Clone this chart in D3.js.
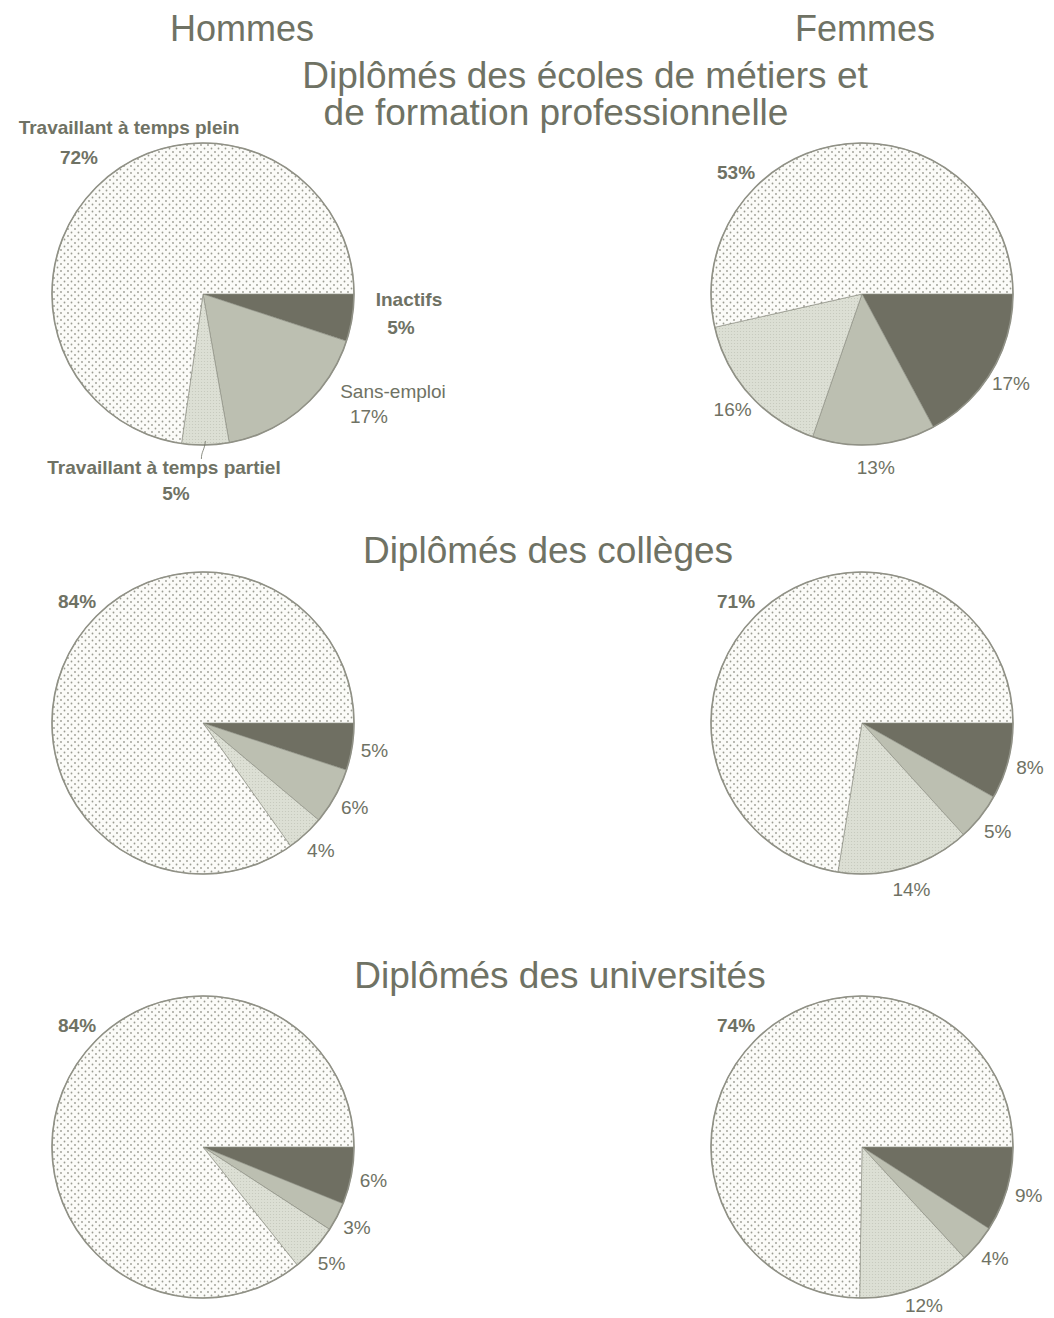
<!DOCTYPE html>
<html lang="fr">
<head>
<meta charset="utf-8">
<script src="https://cdn.jsdelivr.net/npm/d3@7"></script>
<style type="text/css">
body {
	margin: 0;
	background: #ffffff;
}
text {
	font-family: "Liberation Sans", Arial, sans-serif;
	fill: #6f7264;
}
</style>
</head>
<body>
<script type="text/javascript">

// chart data
var sexes = ["Hommes", "Femmes"];
var categories = ["Inactifs", "Sans-emploi", "Travaillant à temps partiel", "Travaillant à temps plein"];
var groups = [
	["Diplômés des écoles de métiers et", "de formation professionnelle"],
	["Diplômés des collèges"],
	["Diplômés des universités"]
];
// values in category order, one row per group
var hommes = [[5, 17, 5, 72], [5, 6, 4, 84], [6, 3, 5, 84]];
var femmes = [[17, 13, 16, 53], [8, 5, 14, 71], [9, 4, 12, 74]];

var width = 1054;
var height = 1318;
var radius = 151;

var colX = [203, 862];
var rowY = [294, 723, 1147];

var svg = d3.select("body")
	.append("svg")
	.attr("width", width)
	.attr("height", height);

// fill patterns to imitate the print screens
var defs = svg.append("defs");

var dots = defs.append("pattern")
	.attr("id", "dots")
	.attr("patternUnits", "userSpaceOnUse")
	.attr("width", 7)
	.attr("height", 7);
dots.append("rect").attr("width", 7).attr("height", 7).attr("fill", "#fbfbf8");
dots.append("circle").attr("cx", 1.5).attr("cy", 1.5).attr("r", 0.9).attr("fill", "#9a9b91");
dots.append("circle").attr("cx", 5).attr("cy", 5).attr("r", 0.9).attr("fill", "#9a9b91");

var fine = defs.append("pattern")
	.attr("id", "fine")
	.attr("patternUnits", "userSpaceOnUse")
	.attr("width", 3)
	.attr("height", 3);
fine.append("rect").attr("width", 3).attr("height", 3).attr("fill", "#dcdfd4");
fine.append("circle").attr("cx", 1.5).attr("cy", 1.5).attr("r", 0.6).attr("fill", "#c4c7bb");

var color = d3.scaleOrdinal()
	.domain(categories)
	.range(["#6f6f62", "#bcbfb1", "url(#fine)", "url(#dots)"]);

var pie = d3.pie()
	.sort(null)
	.startAngle(Math.PI / 2)
	.endAngle(Math.PI / 2 + 2 * Math.PI)
	.value(function(d) { return d.value; });

var arc = d3.arc().innerRadius(0).outerRadius(radius);
var labelArc = d3.arc().innerRadius(radius * 1.15).outerRadius(radius * 1.15);

// column headers
svg.selectAll(".sex")
	.data(sexes)
	.enter()
	.append("text")
	.attr("class", "sex")
	.attr("x", function(d, i) { return [242, 865][i]; })
	.attr("y", 41)
	.attr("text-anchor", "middle")
	.style("font-size", "36px")
	.text(function(d) { return d; });

// group titles
var titleX = [[585, 556], [548], [560]];
var titleY = [88, 563, 988];
groups.forEach(function(lines, g) {
	lines.forEach(function(line, k) {
		svg.append("text")
			.attr("x", titleX[g][k])
			.attr("y", titleY[g] + k * 37)
			.attr("text-anchor", "middle")
			.style("font-size", "37px")
			.text(line);
	});
});

// offsets of the named labels on the first pie (name line, percent line)
var named = {
	"Inactifs": [[206, 12], [198, 40]],
	"Sans-emploi": [[190, 104], [166, 129]],
	"Travaillant à temps partiel": [[-39, 180], [-27, 206]],
	"Travaillant à temps plein": [[-74, -160], [-124, -130]]
};

function drawPie(values, cx, cy, withNames) {
	var data = categories.map(function(c, i) { return {name: c, value: values[i]}; });
	var g = svg.append("g").attr("transform", "translate(" + cx + "," + cy + ")");
	var arcs = pie(data);

	g.selectAll("path")
		.data(arcs)
		.enter()
		.append("path")
		.attr("d", arc)
		.attr("fill", function(d) { return color(d.data.name); })
		.attr("stroke", "#85867b")
		.attr("stroke-width", 0.6);

	g.append("circle")
		.attr("r", radius)
		.attr("fill", "none")
		.attr("stroke", "#909186")
		.attr("stroke-width", 1.6);

	arcs.forEach(function(d, i) {
		var pct = d.data.value + "%";
		var bold = (i == 3 || withNames) && d.data.name != "Sans-emploi";
		if (withNames) {
			var o = named[d.data.name];
			g.append("text")
				.attr("x", o[0][0]).attr("y", o[0][1])
				.attr("text-anchor", "middle")
				.style("font-size", "19px")
				.style("font-weight", d.data.name == "Sans-emploi" ? "normal" : "bold")
				.text(d.data.name);
			g.append("text")
				.attr("x", o[1][0]).attr("y", o[1][1])
				.attr("text-anchor", "middle")
				.style("font-size", "19px")
				.style("font-weight", bold ? "bold" : "normal")
				.text(pct);
			return;
		}
		var p;
		if (i == 3) {
			// the full-time share is always set at the upper left
			var a = -46 * Math.PI / 180;
			p = [Math.sin(a) * radius * 1.16, -Math.cos(a) * radius * 1.16];
		} else {
			p = labelArc.centroid(d);
		}
		// keep the baseline inside the page
		var base = Math.min(p[1] + 6.5, height - 6 - cy);
		g.append("text")
			.attr("x", p[0]).attr("y", base)
			.attr("text-anchor", "middle")
			.style("font-size", "19px")
			.style("font-weight", bold ? "bold" : "normal")
			.text(pct);
	});

	if (withNames) {
		// small leader from the part-time slice to its label
		var part = arcs[2];
		var m = (part.startAngle + part.endAngle) / 2;
		var x0 = Math.sin(m) * radius, y0 = -Math.cos(m) * radius;
		g.append("path")
			.attr("d", "M" + x0 + "," + (y0 - 4) + " C" + (x0 - 1) + "," + (y0 + 6) + " " + (x0 - 4) + "," + (y0 + 6) + " " + (x0 - 4) + "," + (y0 + 14))
			.attr("fill", "none")
			.attr("stroke", "#6f7264")
			.attr("stroke-width", 0.8);
	}
}

rowY.forEach(function(cy, r) {
	drawPie(hommes[r], colX[0], cy, r == 0);
	drawPie(femmes[r], colX[1], cy, false);
});

</script>
</body>
</html>
